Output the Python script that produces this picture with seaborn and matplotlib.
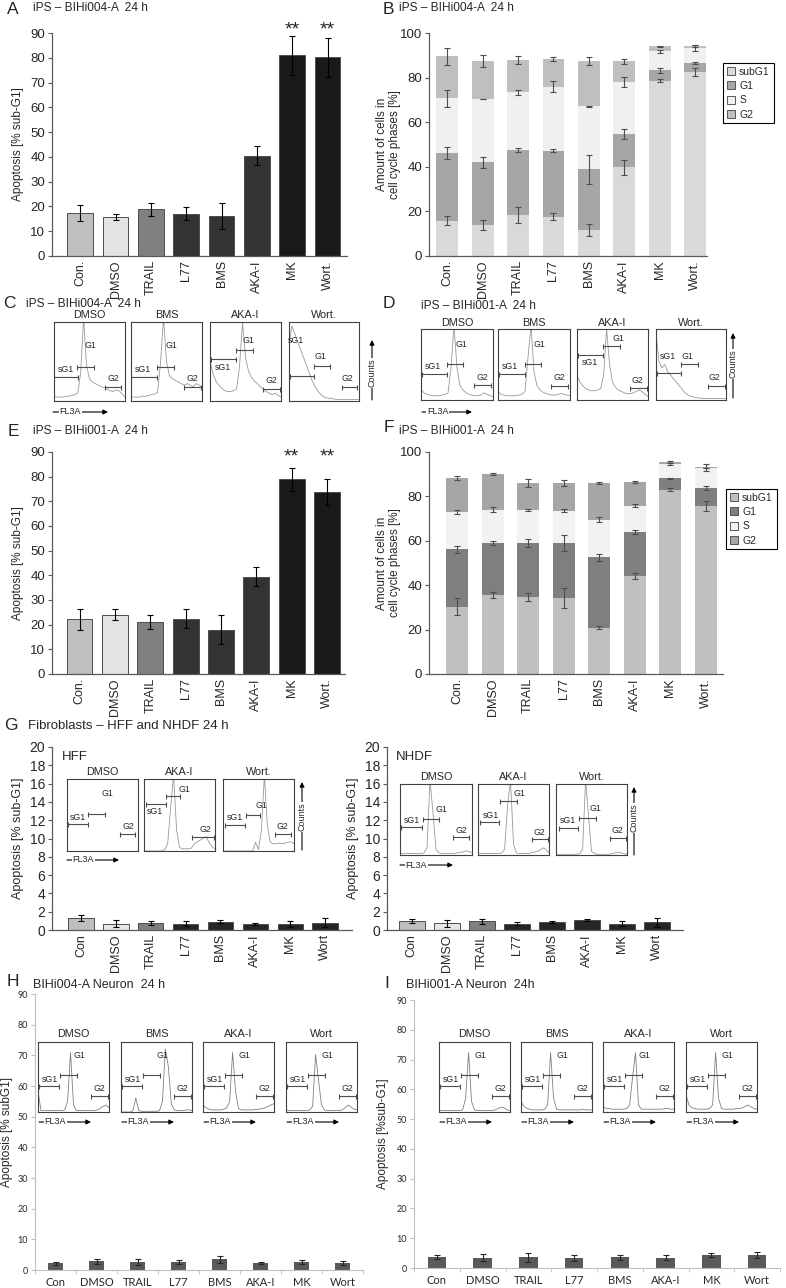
import numpy as np
import seaborn as sns
import matplotlib.pyplot as plt
from matplotlib.patches import Patch, FancyArrowPatch

sns.set_style('ticks')
plt.rcParams['font.family'] = ['Liberation Sans', 'DejaVu Sans']

W, H = 786, 1288

# ---- data ----
treat = ['Con.', 'DMSO', 'TRAIL', 'L77', 'BMS', 'AKA-I', 'MK', 'Wort.']
treat_g = ['Con', 'DMSO', 'TRAIL', 'L77', 'BMS', 'AKA-I', 'MK', 'Wort']
phases = ['subG1', 'G1', 'S', 'G2']

# A / E: apoptosis iPS lines
apo_004 = [17.3, 15.8, 18.8, 17.0, 16.0, 40.5, 81.0, 80.2]
apo_004_err = [3.2, 1.3, 2.6, 2.6, 5.3, 3.8, 7.9, 7.8]
apo_001 = [22.2, 24.0, 21.0, 22.5, 17.9, 39.4, 79.0, 73.7]
apo_001_err = [4.3, 2.2, 2.8, 3.7, 5.9, 3.9, 4.7, 5.3]
signif = ['', '', '', '', '', '', '**', '**']

# B: cell cycle BIHi004-A
b_subg1 = [15.9, 13.9, 18.4, 17.7, 11.7, 39.7, 78.6, 82.3]
b_g1 = [30.2, 28.2, 29.2, 29.6, 27.2, 14.9, 4.6, 4.2]
b_s = [24.6, 28.3, 25.8, 28.6, 28.2, 23.5, 8.6, 6.8]
b_g2 = [18.8, 16.9, 14.3, 12.4, 20.5, 9.2, 2.2, 1.0]
b_err_subg1 = [2.0, 2.3, 3.5, 1.5, 2.6, 3.5, 0.6, 1.8]
b_err_g1 = [2.7, 2.5, 0.8, 0.6, 6.5, 2.3, 1.3, 0.3]
b_err_s = [3.8, 0.2, 1.2, 2.5, 0.3, 2.2, 0.7, 1.2]
b_err_g2 = [3.8, 2.7, 1.8, 0.9, 1.8, 1.2, 0.3, 0.5]

# F: cell cycle BIHi001-A
f_subg1 = [30.4, 35.6, 34.9, 34.1, 20.9, 44.2, 83.0, 75.8]
f_g1 = [25.7, 23.3, 24.0, 24.8, 31.7, 19.6, 5.1, 8.0]
f_s = [16.8, 15.1, 15.1, 14.6, 16.9, 12.0, 6.5, 9.0]
f_g2 = [15.4, 16.1, 12.0, 12.5, 16.5, 10.7, 0.9, 0.3]
f_err_subg1 = [3.8, 1.2, 1.8, 4.5, 0.8, 1.3, 0.6, 2.3]
f_err_g1 = [1.5, 1.0, 1.8, 3.5, 1.5, 0.9, 0.3, 0.9]
f_err_s = [1.0, 1.0, 0.5, 0.6, 1.2, 0.8, 0.3, 0.2]
f_err_g2 = [0.8, 0.3, 1.8, 1.4, 0.6, 0.3, 0.5, 1.5]

# G: fibroblasts
hff = [1.3, 0.7, 0.8, 0.7, 0.9, 0.7, 0.67, 0.8]
hff_err = [0.3, 0.35, 0.2, 0.25, 0.15, 0.1, 0.35, 0.5]
nhdf = [1.0, 0.74, 0.95, 0.7, 0.84, 1.12, 0.7, 0.84]
nhdf_err = [0.2, 0.4, 0.3, 0.2, 0.1, 0.1, 0.3, 0.5]

# H / I: neurons
neu_004 = [2.2, 2.9, 2.6, 2.5, 3.5, 2.3, 2.6, 2.3]
neu_004_err = [0.5, 0.8, 1.0, 0.6, 1.1, 0.3, 0.6, 0.6]
neu_001 = [3.7, 3.5, 3.6, 3.4, 3.6, 3.5, 4.4, 4.3]
neu_001_err = [0.8, 1.2, 1.5, 1.0, 0.8, 0.8, 0.7, 1.0]

# flow cytometry histograms (relative counts, 25 bins across FL3A)
hist_c = [
    [0.06, 0.05, 0.05, 0.05, 0.06, 0.06, 0.07, 0.08, 0.10, 0.35, 1.05, 0.45, 0.28, 0.24, 0.22, 0.20, 0.18, 0.17, 0.15, 0.13, 0.12, 0.14, 0.13, 0.09, 0.05],
    [0.05, 0.05, 0.05, 0.05, 0.06, 0.06, 0.07, 0.08, 0.09, 0.11, 0.50, 1.05, 0.50, 0.32, 0.28, 0.26, 0.24, 0.22, 0.20, 0.22, 0.20, 0.18, 0.22, 0.20, 0.18],
    [0.50, 0.35, 0.25, 0.20, 0.16, 0.13, 0.12, 0.12, 0.13, 0.15, 0.45, 1.00, 0.55, 0.38, 0.30, 0.25, 0.22, 0.18, 0.15, 0.12, 0.10, 0.08, 0.10, 0.07, 0.05],
    [0.70, 0.95, 0.85, 0.75, 0.65, 0.55, 0.45, 0.35, 0.25, 0.18, 0.12, 0.08, 0.05, 0.04, 0.03, 0.03, 0.02, 0.02, 0.02, 0.02, 0.02, 0.02, 0.02, 0.02, 0.02],
]
hist_d = [
    [0.15, 0.10, 0.08, 0.07, 0.06, 0.06, 0.06, 0.07, 0.08, 0.10, 0.45, 1.05, 0.45, 0.20, 0.14, 0.10, 0.08, 0.07, 0.06, 0.06, 0.07, 0.10, 0.08, 0.06, 0.05],
    [0.12, 0.08, 0.07, 0.06, 0.06, 0.06, 0.06, 0.07, 0.08, 0.12, 0.60, 1.05, 0.40, 0.20, 0.14, 0.11, 0.09, 0.08, 0.07, 0.07, 0.08, 0.09, 0.08, 0.07, 0.06],
    [0.35, 0.25, 0.20, 0.16, 0.14, 0.13, 0.13, 0.14, 0.16, 0.35, 1.00, 0.50, 0.25, 0.18, 0.14, 0.12, 0.10, 0.09, 0.09, 0.10, 0.12, 0.14, 0.12, 0.08, 0.05],
    [0.95, 0.55, 0.45, 0.50, 0.40, 0.35, 0.30, 0.25, 0.20, 0.15, 0.10, 0.07, 0.05, 0.04, 0.03, 0.03, 0.02, 0.02, 0.02, 0.02, 0.02, 0.02, 0.02, 0.02, 0.02],
]
hist_hff = [
    [],
    [0.0, 0.0, 0.0, 0.0, 0.0, 0.0, 0.0, 0.02, 0.10, 0.60, 1.05, 0.30, 0.05, 0.03, 0.03, 0.03, 0.04, 0.10, 0.13, 0.15, 0.18, 0.20, 0.12, 0.06, 0.03],
    [0.0, 0.0, 0.0, 0.0, 0.0, 0.0, 0.0, 0.0, 0.0, 0.0, 0.0, 0.12, 0.02, 0.30, 1.05, 0.35, 0.12, 0.10, 0.10, 0.11, 0.10, 0.11, 0.12, 0.13, 0.10],
]
hist_nhdf = [
    [0.02, 0.02, 0.02, 0.02, 0.02, 0.02, 0.02, 0.02, 0.03, 0.10, 1.05, 0.60, 0.08, 0.03, 0.02, 0.02, 0.02, 0.02, 0.02, 0.03, 0.04, 0.04, 0.06, 0.05, 0.03],
    [0.02, 0.02, 0.02, 0.02, 0.02, 0.02, 0.02, 0.02, 0.03, 0.08, 0.70, 1.05, 0.15, 0.03, 0.02, 0.02, 0.02, 0.02, 0.03, 0.04, 0.05, 0.07, 0.10, 0.08, 0.03],
    [0.01, 0.01, 0.01, 0.01, 0.01, 0.01, 0.01, 0.01, 0.02, 0.08, 1.05, 0.55, 0.05, 0.02, 0.01, 0.01, 0.01, 0.01, 0.01, 0.02, 0.03, 0.04, 0.03, 0.02, 0.01],
]
hist_h = [
    [0.30, 0.02, 0.02, 0.02, 0.02, 0.02, 0.02, 0.02, 0.02, 0.03, 0.15, 0.85, 0.10, 0.02, 0.02, 0.02, 0.02, 0.02, 0.02, 0.02, 0.03, 0.05, 0.08, 0.10, 0.06],
    [0.0, 0.0, 0.0, 0.0, 0.02, 0.20, 0.02, 0.01, 0.01, 0.01, 0.01, 0.01, 0.01, 0.02, 0.15, 0.90, 0.65, 0.12, 0.03, 0.02, 0.02, 0.02, 0.03, 0.03, 0.02],
    [0.10, 0.06, 0.04, 0.03, 0.03, 0.03, 0.03, 0.04, 0.06, 0.15, 0.85, 0.30, 0.05, 0.03, 0.03, 0.03, 0.03, 0.03, 0.04, 0.04, 0.05, 0.06, 0.08, 0.10, 0.12],
    [0.03, 0.02, 0.02, 0.02, 0.02, 0.02, 0.02, 0.02, 0.03, 0.08, 0.82, 0.45, 0.10, 0.03, 0.02, 0.02, 0.02, 0.02, 0.02, 0.03, 0.06, 0.10, 0.07, 0.04, 0.03],
]
hist_i = [
    [0.02, 0.02, 0.02, 0.02, 0.02, 0.02, 0.02, 0.02, 0.03, 0.20, 0.85, 0.15, 0.03, 0.02, 0.02, 0.02, 0.02, 0.02, 0.02, 0.03, 0.05, 0.07, 0.06, 0.03, 0.02],
    [0.15, 0.08, 0.05, 0.04, 0.03, 0.03, 0.03, 0.03, 0.04, 0.10, 0.85, 0.20, 0.04, 0.03, 0.03, 0.03, 0.03, 0.03, 0.03, 0.03, 0.03, 0.04, 0.03, 0.03, 0.03],
    [0.08, 0.05, 0.05, 0.04, 0.04, 0.04, 0.04, 0.04, 0.05, 0.10, 0.50, 0.85, 0.10, 0.04, 0.04, 0.04, 0.04, 0.04, 0.04, 0.04, 0.04, 0.05, 0.05, 0.04, 0.04],
    [0.25, 0.10, 0.06, 0.05, 0.04, 0.04, 0.04, 0.04, 0.05, 0.10, 0.85, 0.20, 0.05, 0.04, 0.04, 0.04, 0.04, 0.05, 0.05, 0.06, 0.08, 0.10, 0.07, 0.05, 0.04],
]

# gates: (name, start, end, level, label x, label y) in relative inset units
gates_c = [
    [('sG1', 0.0, 0.34, 0.30, 0.17, 0.40), ('G1', 0.33, 0.57, 0.43, 0.52, 0.70), ('G2', 0.72, 0.95, 0.18, 0.84, 0.28)],
    [('sG1', 0.0, 0.36, 0.30, 0.17, 0.40), ('G1', 0.36, 0.60, 0.43, 0.57, 0.70), ('G2', 0.75, 0.98, 0.18, 0.86, 0.28)],
    [('sG1', 0.02, 0.36, 0.53, 0.18, 0.43), ('G1', 0.36, 0.60, 0.65, 0.54, 0.77), ('G2', 0.75, 0.98, 0.15, 0.86, 0.26)],
    [('sG1', 0.01, 0.36, 0.32, 0.10, 0.76), ('G1', 0.35, 0.58, 0.44, 0.45, 0.56), ('G2', 0.75, 0.97, 0.18, 0.84, 0.29)],
]
gates_d = [
    [('sG1', 0.02, 0.36, 0.37, 0.17, 0.47), ('G1', 0.36, 0.59, 0.50, 0.56, 0.78), ('G2', 0.74, 0.97, 0.21, 0.85, 0.31)],
    [('sG1', 0.02, 0.37, 0.37, 0.17, 0.47), ('G1', 0.37, 0.60, 0.50, 0.57, 0.78), ('G2', 0.74, 0.97, 0.20, 0.85, 0.31)],
    [('sG1', 0.02, 0.37, 0.64, 0.18, 0.53), ('G1', 0.37, 0.60, 0.76, 0.58, 0.87), ('G2', 0.75, 0.98, 0.17, 0.85, 0.27)],
    [('sG1', 0.01, 0.36, 0.38, 0.17, 0.61), ('G1', 0.36, 0.60, 0.50, 0.45, 0.61), ('G2', 0.74, 0.98, 0.20, 0.84, 0.31)],
]
gates_hff = [
    [('sG1', 0.01, 0.30, 0.37, 0.16, 0.46), ('G1', 0.30, 0.54, 0.52, 0.57, 0.80), ('G2', 0.74, 0.96, 0.23, 0.86, 0.34)],
    [('sG1', 0.03, 0.31, 0.65, 0.16, 0.55), ('G1', 0.31, 0.51, 0.76, 0.57, 0.86), ('G2', 0.68, 0.98, 0.20, 0.86, 0.30)],
    [('sG1', 0.03, 0.31, 0.36, 0.17, 0.46), ('G1', 0.32, 0.52, 0.50, 0.54, 0.63), ('G2', 0.73, 0.96, 0.24, 0.84, 0.34)],
]
gates_nhdf = [
    [('sG1', 0.01, 0.31, 0.39, 0.17, 0.49), ('G1', 0.32, 0.54, 0.51, 0.57, 0.64), ('G2', 0.74, 0.96, 0.25, 0.85, 0.34)],
    [('sG1', 0.03, 0.30, 0.46, 0.18, 0.56), ('G1', 0.31, 0.55, 0.76, 0.58, 0.87), ('G2', 0.76, 0.98, 0.22, 0.86, 0.32)],
    [('sG1', 0.04, 0.31, 0.38, 0.17, 0.48), ('G1', 0.32, 0.56, 0.52, 0.55, 0.65), ('G2', 0.76, 0.98, 0.24, 0.86, 0.34)],
]
gates_neuron = [('sG1', 0.02, 0.30, 0.37, 0.17, 0.47), ('G1', 0.31, 0.55, 0.53, 0.58, 0.81), ('G2', 0.75, 0.98, 0.23, 0.86, 0.33)]

inset_c = ['DMSO', 'BMS', 'AKA-I', 'Wort.']
inset_g = ['DMSO', 'AKA-I', 'Wort.']
inset_n = ['DMSO', 'BMS', 'AKA-I', 'Wort']

# ---- helpers ----
fig = plt.figure(figsize=(W / 100, H / 100), dpi=100)


def fx(x):
    return x / W


def fy(y):
    return 1 - y / H


def rect(x0, y0, x1, y1):
    return [x0 / W, 1 - y1 / H, (x1 - x0) / W, (y1 - y0) / H]


def put_text(x, y, s, size, **kw):
    fig.text(fx(x), fy(y), s, fontsize=size, va='center', **kw)


def base_style(ax, box, ylabel, ylab_x, spine='#595959', tsize=9.5, lsize=8.5):
    sns.despine(ax=ax)
    for side in ['left', 'bottom']:
        ax.spines[side].set_color(spine)
        ax.spines[side].set_linewidth(0.9)
    ax.tick_params(axis='y', length=3, width=0.8, color=spine, labelsize=tsize, pad=2)
    ax.tick_params(axis='x', length=0, labelsize=9, pad=3, labelrotation=90)
    ax.set_xlabel('')
    ax.set_ylabel(ylabel, fontsize=lsize, linespacing=1.1)
    ax.yaxis.set_label_coords((ylab_x - box[0]) / (box[2] - box[0]), 0.5)


def apo_panel(box, cats, vals, errs, colors, width, xlim, ymax, ystep, ylab_x, tsize=9.5, lsize=8.5):
    ax = fig.add_axes(rect(*box))
    sns.barplot(x=cats, y=vals, hue=cats, palette=colors, legend=False, width=width,
                saturation=1, edgecolor='#4d4d4d', linewidth=0.7, ax=ax)
    ax.errorbar(np.arange(len(cats)), vals, yerr=errs, fmt='none', ecolor='black',
                elinewidth=0.8, capsize=2.5, capthick=0.8)
    ax.set_xlim(*xlim)
    ax.set_ylim(0, ymax)
    ax.set_yticks(np.arange(0, ymax + 0.01, ystep))
    base_style(ax, box, 'Apoptosis [% sub-G1]', ylab_x, tsize=tsize, lsize=lsize)
    return ax


def cycle_panel(box, segs, errs, colors, xlim, legend_xy):
    ax = fig.add_axes(rect(*box))
    tops = np.cumsum(np.array(segs), axis=0)
    for k in range(3, -1, -1):
        sns.barplot(x=treat, y=tops[k], color=colors[k], width=0.62, saturation=1,
                    linewidth=0, ax=ax)
    for k in range(4):
        ax.errorbar(np.arange(8), tops[k], yerr=errs[k], fmt='none', ecolor='#4d4d4d',
                    elinewidth=0.8, capsize=2, capthick=0.8)
    ax.set_xlim(*xlim)
    ax.set_ylim(0, 100)
    ax.set_yticks(np.arange(0, 101, 20))
    base_style(ax, box, 'Amount of cells in\ncell cycle phases [%]', 401)
    handles = [Patch(facecolor=c, edgecolor='#404040', linewidth=0.6) for c in colors]
    leg = ax.legend(handles, phases, loc='upper left', bbox_to_anchor=(fx(legend_xy[0]), fy(legend_xy[1])),
                    bbox_transform=fig.transFigure, fancybox=False, edgecolor='black', framealpha=1,
                    fontsize=7.5, handlelength=0.8, handleheight=0.8, borderpad=0.35,
                    labelspacing=0.42, handletextpad=0.4, borderaxespad=0)
    leg.get_frame().set_linewidth(0.8)
    return ax


flow_x = np.linspace(0, 1, 25)


def flow_inset(box, title, title_y, hist, gates, line_color='#999999'):
    ax = fig.add_axes(rect(*box))
    if len(hist):
        sns.lineplot(x=flow_x, y=hist, color=line_color, linewidth=0.6, ax=ax)
    for name, g0, g1, gy, lx, ly in gates:
        ax.errorbar((g0 + g1) / 2, gy, xerr=(g1 - g0) / 2, fmt='none', ecolor='#4d4d4d',
                    elinewidth=0.8, capsize=1.8, capthick=0.8)
        ax.text(lx, ly, name, fontsize=6.3, ha='center', va='center')
    ax.set(xlim=(0, 1), ylim=(0, 1), xticks=[], yticks=[], xlabel='', ylabel='')
    for sp in ax.spines.values():
        sp.set_visible(True)
        sp.set_color('#404040')
        sp.set_linewidth(0.8)
    put_text((box[0] + box[2]) / 2, title_y, title, 7.8, ha='center')


def counts_arrow(x, y_top, y_bot, y_txt):
    fig.add_artist(FancyArrowPatch((fx(x), fy(y_bot)), (fx(x), fy(y_top)), transform=fig.transFigure,
                                   arrowstyle='-|>', mutation_scale=7, linewidth=0.8, color='black',
                                   shrinkA=0, shrinkB=0))
    fig.text(fx(x), fy(y_txt), 'Counts', rotation=90, fontsize=6.5, ha='center', va='center',
             bbox=dict(facecolor='white', edgecolor='none', pad=0.8))


def fl3a_arrow(x0, x1, y):
    fig.add_artist(FancyArrowPatch((fx(x0), fy(y)), (fx(x1), fy(y)), transform=fig.transFigure,
                                   arrowstyle='-|>', mutation_scale=7, linewidth=0.8, color='black',
                                   shrinkA=0, shrinkB=0))
    fig.text(fx(x0 + 0.31 * (x1 - x0)), fy(y), 'FL3A', fontsize=6.5, ha='center', va='center',
             bbox=dict(facecolor='white', edgecolor='none', pad=0.5))


def neuron_panel(box, vals, errs, width, ylabel, ylab_x):
    ax = fig.add_axes(rect(*box))
    sns.barplot(x=treat_g, y=vals, color='#595959', width=width, saturation=1, linewidth=0, ax=ax)
    ax.errorbar(np.arange(8), vals, yerr=errs, fmt='none', ecolor='#262626',
                elinewidth=0.8, capsize=2, capthick=0.8)
    ax.set_xlim(-0.5, 7.5)
    ax.set_ylim(0, 90)
    ax.set_yticks(np.arange(0, 91, 10))
    ax.set_xticks(np.arange(-0.5, 8, 1), minor=True)
    sns.despine(ax=ax)
    for side in ['left', 'bottom']:
        ax.spines[side].set_color('#bfbfbf')
        ax.spines[side].set_linewidth(0.8)
    ax.tick_params(axis='x', which='major', length=0, labelsize=8, pad=5)
    ax.tick_params(axis='x', which='minor', length=3, color='#bfbfbf')
    ax.tick_params(axis='y', length=3, color='#bfbfbf', labelsize=6.5, pad=2)
    for lab in ax.get_xticklabels() + ax.get_yticklabels():
        lab.set_family(['Lato', 'DejaVu Sans'])
    ax.set_xlabel('')
    ax.set_ylabel(ylabel, fontsize=8.5)
    ax.yaxis.set_label_coords((ylab_x - box[0]) / (box[2] - box[0]), 0.5)
    return ax


apo_colors = ['#bfbfbf', '#e3e3e3', '#808080', '#333333', '#333333', '#333333', '#1a1a1a', '#1a1a1a']
fib_colors = ['#bfbfbf', '#e6e6e6', '#808080', '#262626', '#262626', '#262626', '#262626', '#262626']
title_size = 8.6

# ---- A ----
boxA = (52, 33, 347, 256)
axA = apo_panel(boxA, treat, apo_004, apo_004_err, apo_colors, 0.73, (-0.8, 7.55), 90, 10, 24)
for i, s in enumerate(signif):
    axA.text(i, 87.6, s, ha='center', va='bottom', fontsize=14, clip_on=False)
put_text(13, 10, 'A', 12.5, ha='center')
put_text(33, 8, 'iPS – BIHi004-A  24 h', title_size)

# ---- B ----
cycle_panel((429, 33, 707, 256), [b_subg1, b_g1, b_s, b_g2],
            [b_err_subg1, b_err_g1, b_err_s, b_err_g2],
            ['#d9d9d9', '#a6a6a6', '#f0f0f0', '#bfbfbf'], (-0.52, 7.34), (723, 63))
put_text(388, 10, 'B', 12.5, ha='center')
put_text(399, 8, 'iPS – BIHi004-A  24 h', title_size)

# ---- C ----
put_text(9, 304, 'C', 12.5, ha='center')
put_text(26, 304, 'iPS – BIHi004-A  24 h', title_size)
for k, (x0, x1) in enumerate([(54, 125), (131, 202), (210, 281), (289, 359)]):
    flow_inset((x0, 322, x1, 401), inset_c[k], 315, hist_c[k], gates_c[k])
counts_arrow(372, 340, 400, 373)
fl3a_arrow(53, 108, 412)

# ---- D ----
put_text(389, 304, 'D', 12.5, ha='center')
put_text(421, 306, 'iPS – BIHi001-A  24 h', title_size)
for k, (x0, x1) in enumerate([(421, 493), (498, 570), (577, 648), (656, 726)]):
    flow_inset((x0, 329, x1, 400), inset_c[k], 323, hist_d[k], gates_d[k])
counts_arrow(733, 333, 398, 364)
fl3a_arrow(422, 472, 412)

# ---- E ----
boxE = (52, 452, 345, 674)
axE = apo_panel(boxE, treat, apo_001, apo_001_err, apo_colors, 0.73, (-0.78, 7.51), 90, 10, 24)
for i, s in enumerate(signif):
    axE.text(i, 84.5, s, ha='center', va='bottom', fontsize=14, clip_on=False)
put_text(13, 431, 'E', 12.5, ha='center')
put_text(33, 431, 'iPS – BIHi001-A  24 h', title_size)

# ---- F ----
cycle_panel((429, 452, 723, 674), [f_subg1, f_g1, f_s, f_g2],
            [f_err_subg1, f_err_g1, f_err_s, f_err_g2],
            ['#c0c0c0', '#7f7f7f', '#f2f2f2', '#a6a6a6'], (-0.79, 7.48), (726, 489))
put_text(389, 427, 'F', 12.5, ha='center')
put_text(399, 431, 'iPS – BIHi001-A  24 h', title_size)

# ---- G ----
put_text(11, 726, 'G', 12.5, ha='center')
put_text(28, 726, 'Fibroblasts – HFF and NHDF 24 h', 9.5)
apo_panel((52, 747, 352, 930), treat_g, hff, hff_err, fib_colors, 0.73, (-0.83, 7.77), 20, 2, 24,
          tsize=10, lsize=9)
apo_panel((387, 747, 683, 930), treat_g, nhdf, nhdf_err, fib_colors, 0.73, (-0.71, 7.74), 20, 2, 359,
          tsize=10, lsize=9)
put_text(62, 757, 'HFF', 9.5)
put_text(396, 757, 'NHDF', 9.5)
for k, (x0, x1) in enumerate([(67, 138), (144, 215), (223, 294)]):
    flow_inset((x0, 779, x1, 851), inset_g[k], 772, hist_hff[k], gates_hff[k])
counts_arrow(302, 782, 850, 817)
fl3a_arrow(67, 119, 860)
for k, (x0, x1) in enumerate([(400, 472), (478, 549), (556, 627)]):
    flow_inset((x0, 784, x1, 855), inset_g[k], 777, hist_nhdf[k], gates_nhdf[k])
counts_arrow(634, 787, 855, 818)
fl3a_arrow(400, 453, 865)

# ---- H ----
put_text(13, 982, 'H', 12.5, ha='center')
put_text(33, 985, 'BIHi004-A Neuron  24 h', 9)
neuron_panel((35, 994, 363, 1270), neu_004, neu_004_err, 0.38, 'Apoptosis [% subG1]', 13)
for k, (x0, x1) in enumerate([(38, 109), (121, 192), (203, 274), (286, 357)]):
    flow_inset((x0, 1042, x1, 1112), inset_n[k], 1034, hist_h[k], gates_neuron, line_color='#808080')
    fl3a_arrow(x0 + 1, x0 + 53, 1122)

# ---- I ----
put_text(387, 983, 'I', 12.5, ha='center')
put_text(406, 985, 'BIHi001-A Neuron  24h', 9)
neuron_panel((414, 1000, 780, 1268), neu_001, neu_001_err, 0.4, 'Apoptosis [%sub-G1]', 389)
for k, (x0, x1) in enumerate([(439, 510), (521, 592), (603, 674), (686, 757)]):
    flow_inset((x0, 1042, x1, 1112), inset_n[k], 1034, hist_i[k], gates_neuron, line_color='#808080')
    fl3a_arrow(x0 + 1, x0 + 53, 1122)

fig.savefig('out.png', dpi=100)
